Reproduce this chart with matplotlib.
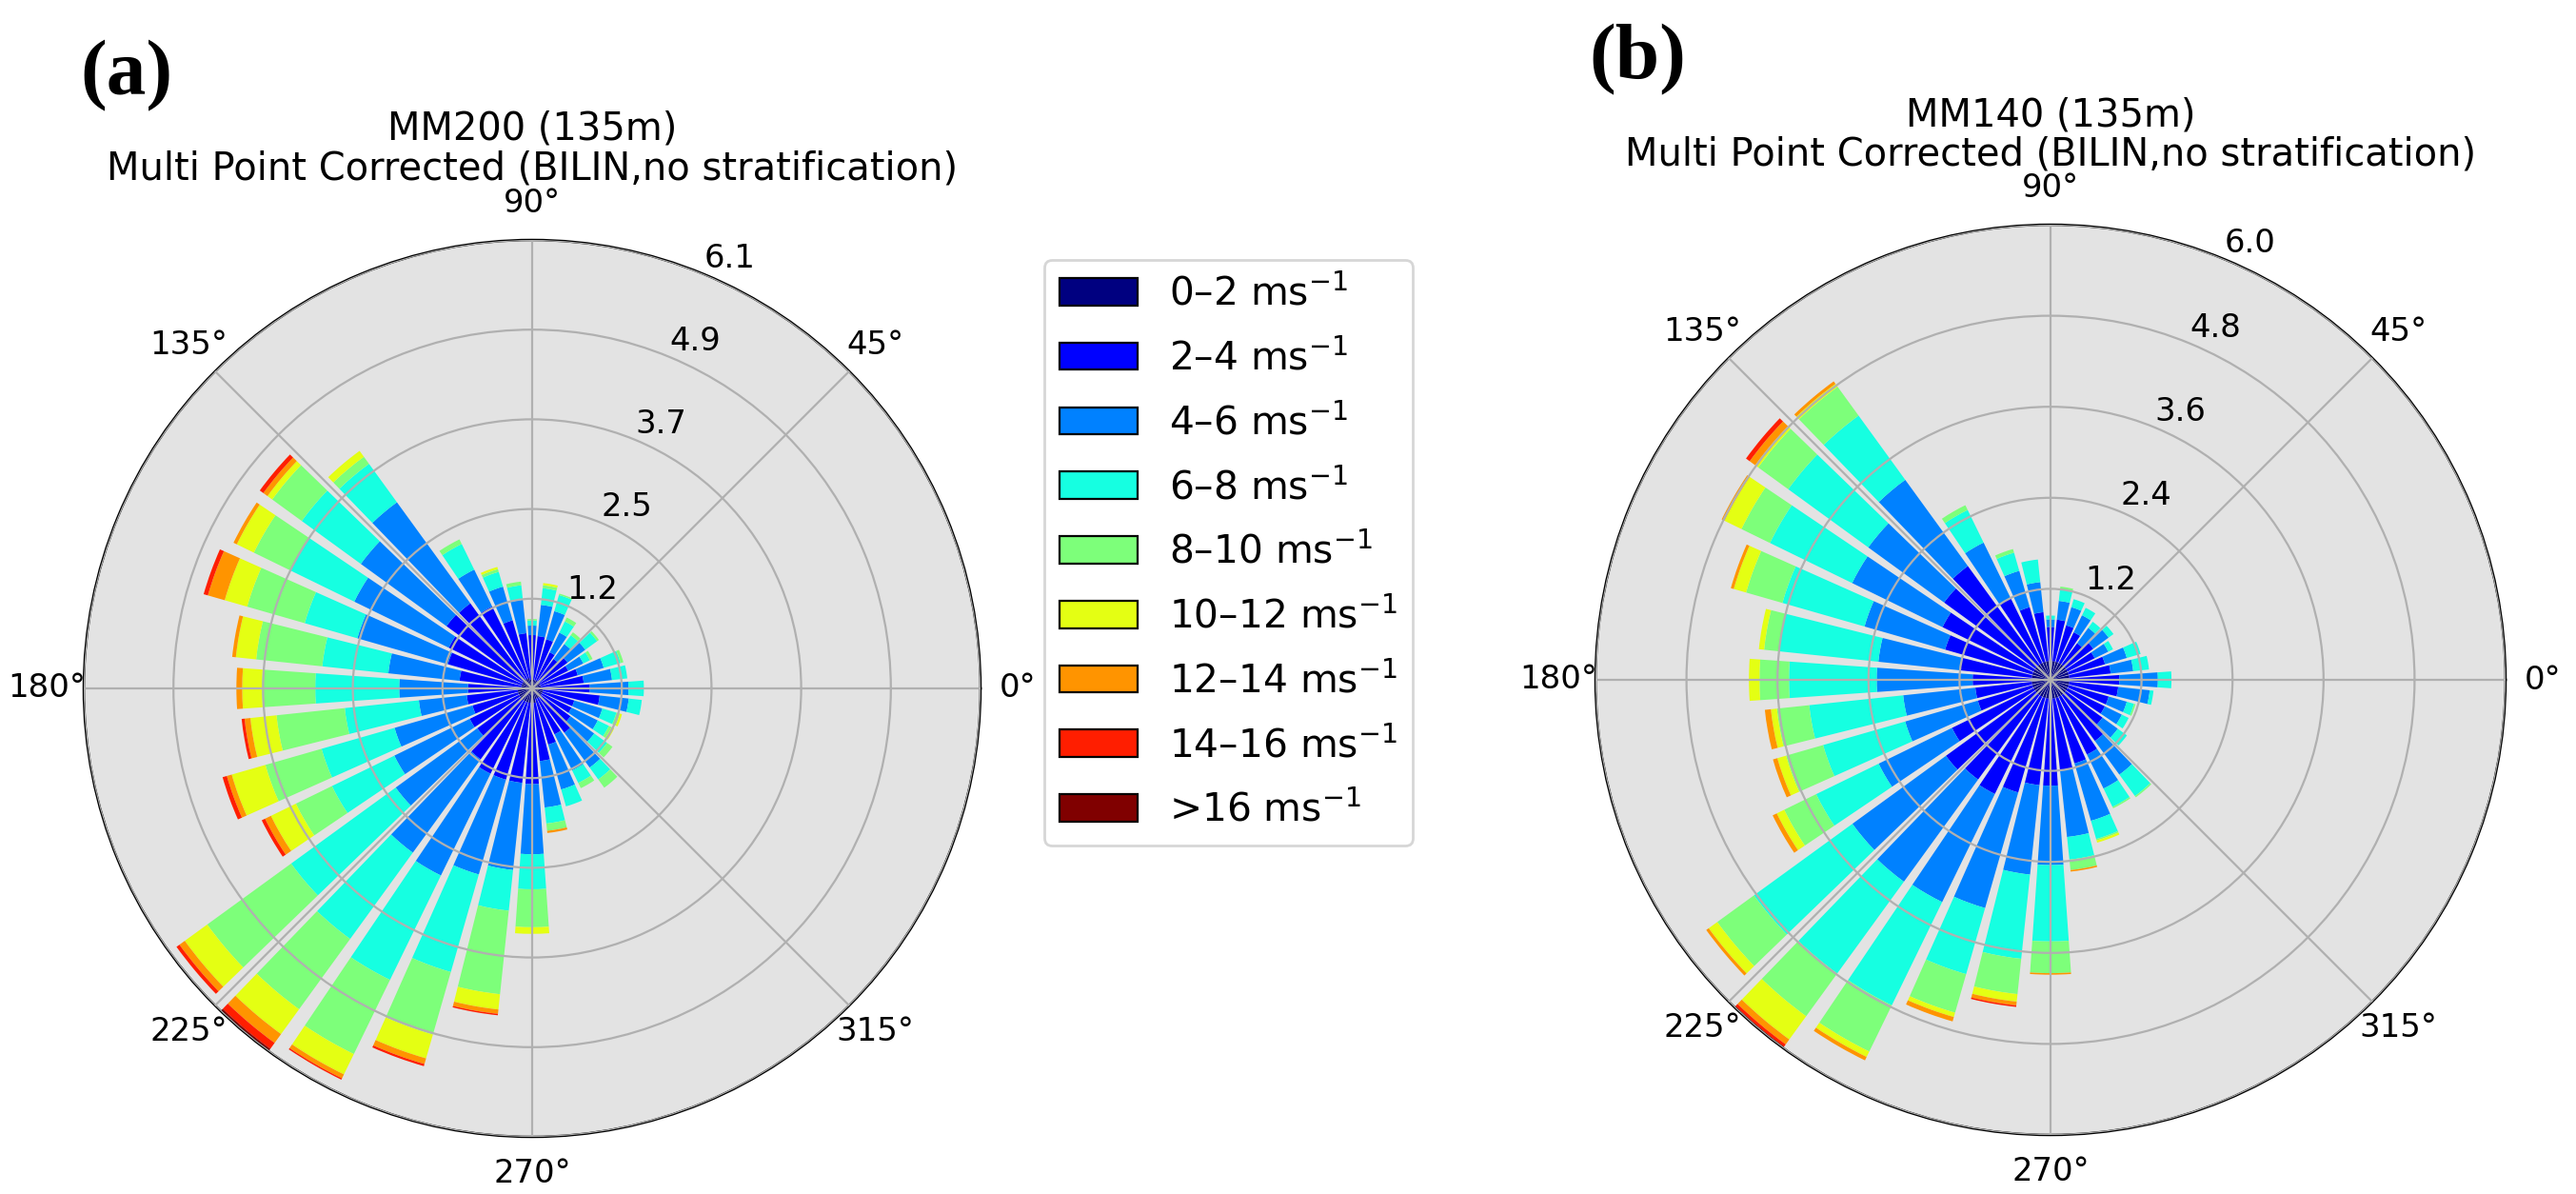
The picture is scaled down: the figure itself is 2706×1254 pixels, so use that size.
import numpy as np
import matplotlib.pyplot as plt
from matplotlib.patches import Rectangle

W, H, DPI = 2706, 1254, 200

# direction sectors (deg, 0 = east, counter-clockwise) and speed bins
directions = np.arange(0, 360, 10)
speed_labels = ['0–2', '2–4', '4–6', '6–8', '8–10', '10–12', '12–14', '14–16', '>16']

# (a) MM200 - frequency (%) in each direction sector, one list per speed bin
mm200_0_2 = [.12, .12, .12, .12, .12, .12, .12, .12, .12, .12, .12, .15, .15, .15, .15, .15, .15, .15,
             .20, .20, .20, .20, .20, .20, .20, .20, .20, .20, .20, .15, .15, .15, .15, .15, .15, .15]
mm200_2_4 = [.67, .59, .53, .43, .48, .38, .43, .58, .60, .61, .64, .82, 1.10, 1.29, 1.30, 1.12, 1.05, .85,
             .68, .70, .65, .75, .73, 1.00, 1.10, 1.10, 1.10, 1.11, .80, .65, .55, .60, .50, .45, .45, .78]
mm200_4_6 = [.53, .39, .37, .23, .30, .25, .30, .40, .43, .13, .46, .48, .56, 1.71, 1.45, 1.44, 1.29, .98,
             .94, .66, 1.11, 1.15, 1.38, 1.58, 1.55, 1.35, 1.20, .96, .64, .64, .55, .59, .40, .40, .40, .40]
mm200_6_8 = [.21, .21, .24, .10, .20, .15, .17, .23, .23, .07, .20, .21, .39, .65, 1.00, .98, .75, .91,
             1.15, 1.02, 1.04, .95, 1.77, 1.46, 1.59, 1.39, .56, .48, .22, .24, .19, .20, .22, .17, .20, .18]
mm200_8_10 = [0, 0, .04, .04, .03, .05, .06, .02, .04, .02, .05, .04, .07, .12, .50, .55, .82, .91,
              .73, .94, .80, .55, 1.42, 1.19, 1.13, .89, 1.15, .52, .10, 0, .08, .14, .09, .04, .05, 0]
mm200_10_12 = [0, 0, 0, 0, 0, 0, 0, 0, .03, 0, 0, .03, 0, .10, .08, .26, .32, .28,
               .27, .36, .48, .38, .38, .42, .31, .34, .21, .09, 0, 0, 0, 0, 0, .04, .03, 0]
mm200_12_14 = [0, 0, 0, 0, 0, 0, 0, 0, 0, 0, 0, 0, 0, 0, .07, .05, .24, .05,
               .08, .08, .07, .09, .09, .15, .06, .08, .06, 0, .03, 0, 0, 0, 0, 0, 0, 0]
mm200_14_16 = [0, 0, 0, 0, 0, 0, 0, 0, 0, 0, 0, 0, 0, 0, .06, 0, .06, 0,
               0, .04, .06, .05, .05, .10, .02, .03, .02, 0, 0, 0, 0, 0, 0, 0, 0, 0]
mm200_16 = [0, 0, 0, 0, 0, 0, 0, 0, 0, 0, 0, 0, 0, 0, 0, 0, 0, 0,
            0, 0, 0, 0, 0, .04, 0, 0, 0, 0, 0, 0, 0, 0, 0, 0, 0, 0]

# (b) MM140
mm140_0_2 = [.25] * 36
mm140_2_4 = [.66, .55, .50, .40, .45, .35, .45, .50, .55, .45, .65, .75, .95, 1.61, 1.49, 1.34, 1.20, .95,
             .78, .75, .75, 1.20, 1.46, 1.38, 1.43, 1.30, 1.15, 1.15, .95, .90, .85, .75, .60, .55, .55, .65]
mm140_4_6 = [.51, .30, .30, .20, .25, .25, .25, .25, .25, .10, .40, .50, .82, 1.41, 1.24, 1.33, 1.11, 1.09,
             1.27, .96, 1.00, 1.08, 1.53, 1.67, 1.59, 1.59, 1.19, 1.05, .89, .79, .50, .55, .25, .25, .25, .42]
mm140_6_8 = [.18, .21, .19, .07, .08, .10, .11, .11, .15, .05, .30, .25, .48, 1.05, 1.31, 1.21, 1.13, 1.32,
             1.16, 1.25, 1.13, .92, 1.61, 1.50, 1.52, .91, 1.12, 1.01, .30, .25, .27, .35, .15, .10, .10, .05]
mm140_8_10 = [0, 0, 0, 0, 0, 0, 0, 0, .04, 0, 0, .05, .07, .47, .49, .42, .50, .20,
              .39, .43, .51, .47, .60, .70, .68, .53, .47, .42, .14, .02, .02, .02, 0, 0, .02, 0]
mm140_10_12 = [0, 0, 0, 0, 0, 0, 0, 0, 0, 0, 0, 0, 0, .05, .05, .25, .17, .07,
               .14, .08, .12, .11, .14, .38, .08, .06, .10, 0, 0, .03, 0, 0, 0, 0, 0, 0]
mm140_12_14 = [0, 0, 0, 0, 0, 0, 0, 0, 0, 0, 0, 0, 0, .04, .09, .04, .04, 0,
               0, .08, .06, .06, .04, .08, .05, .06, .05, .02, .02, 0, 0, 0, 0, 0, 0, 0]
mm140_14_16 = [0, 0, 0, 0, 0, 0, 0, 0, 0, 0, 0, 0, 0, 0, .06, 0, 0, 0,
               0, 0, 0, 0, 0, .04, 0, 0, .02, 0, 0, 0, 0, 0, 0, 0, 0, 0]
mm140_16 = [0, 0, 0, 0, 0, 0, 0, 0, 0, 0, 0, 0, 0, 0, 0, 0, 0, 0,
            0, 0, 0, 0, 0, .02, 0, 0, 0, 0, 0, 0, 0, 0, 0, 0, 0, 0]

mm200 = [mm200_0_2, mm200_2_4, mm200_4_6, mm200_6_8, mm200_8_10,
         mm200_10_12, mm200_12_14, mm200_14_16, mm200_16]
mm140 = [mm140_0_2, mm140_2_4, mm140_4_6, mm140_6_8, mm140_8_10,
         mm140_10_12, mm140_12_14, mm140_14_16, mm140_16]

colors = plt.cm.jet(np.linspace(0, 1, len(speed_labels)))

TICK_FS = 12.2
TITLE_FS = 14.4
LEGEND_FS = 14.7


def px_box(cx, cy, r):
    # square box (figure fraction) around a circle given in pixels
    return [(cx - r) / W, (H - cy - r) / H, 2 * r / W, 2 * r / H]


def draw_rose(ax, bins):
    theta = np.radians(directions)
    width = 0.8 * np.radians(10)
    bottom = np.zeros(len(directions))
    for k, freq in enumerate(bins):
        freq = np.asarray(freq, dtype=float)
        ax.bar(theta, freq, width=width, bottom=bottom, color=colors[k],
               linewidth=0, zorder=1)
        bottom = bottom + freq

    rmax = bottom.max()
    ax.set_ylim(0, rmax)
    radii = np.linspace(0, rmax, 6)[1:]
    ax.set_rgrids(radii, ['%.1f' % r for r in radii], angle=67.5)
    ax.set_facecolor('#e3e3e3')
    ax.set_axisbelow(False)
    ax.grid(True, color='#b0b0b0', lw=0.8)
    ax.tick_params(axis='both', labelsize=TICK_FS)
    ax.spines['polar'].set_linewidth(0.9)


fig = plt.figure(figsize=(W / DPI, H / DPI), dpi=DPI)

ax_a = fig.add_axes(px_box(559, 723, 471), projection='polar')
draw_rose(ax_a, mm200)
ax_b = fig.add_axes(px_box(2154, 714, 478), projection='polar')
draw_rose(ax_b, mm140)

fig.text(559 / W, 1 - 116 / H,
         'MM200 (135m)\nMulti Point Corrected (BILIN,no stratification)',
         ha='center', va='top', multialignment='center', fontsize=TITLE_FS,
         linespacing=1.05)
fig.text(2154 / W, 1 - 101 / H,
         'MM140 (135m)\nMulti Point Corrected (BILIN,no stratification)',
         ha='center', va='top', multialignment='center', fontsize=TITLE_FS,
         linespacing=1.05)

fig.text(84 / W, 1 - 42 / H, '(a)', ha='left', va='top', fontsize=30,
         fontweight='bold', family='Liberation Serif')
fig.text(1669 / W, 1 - 25 / H, '(b)', ha='left', va='top', fontsize=30,
         fontweight='bold', family='Liberation Serif')

# legend
handles = [Rectangle((0, 0), 1, 1, facecolor=c, edgecolor='black', lw=0.8) for c in colors]
labels = [s + r' ms$^{-1}$' for s in speed_labels]
fig.legend(handles, labels, loc='upper left',
           bbox_to_anchor=(1097 / W, 1 - 273 / H), bbox_transform=fig.transFigure,
           borderaxespad=0, fontsize=LEGEND_FS, labelspacing=0.67)

plt.savefig('out.png', dpi=DPI)
